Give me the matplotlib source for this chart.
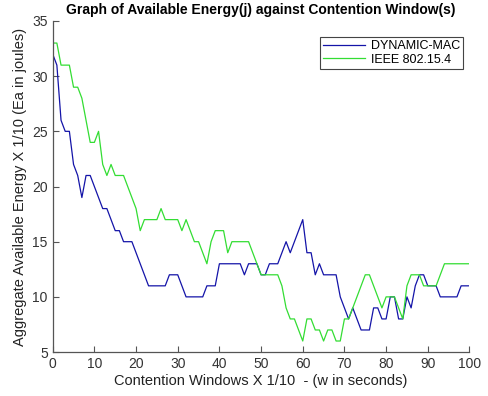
import matplotlib
matplotlib.use("Agg")
import matplotlib.pyplot as plt
import numpy as np

plt.rcParams['font.family'] = ['Liberation Sans', 'DejaVu Sans']

x = list(range(0, 101))
dynamic_mac = [32, 31, 26, 25, 25, 22, 21, 19, 21, 21,
               20, 19, 18, 18, 17, 16, 16, 15, 15, 15,
               14, 13, 12, 11, 11, 11, 11, 11, 12, 12,
               12, 11, 10, 10, 10, 10, 10, 11, 11, 11,
               13, 13, 13, 13, 13, 13, 12, 13, 13, 13,
               12, 12, 13, 13, 13, 14, 15, 14, 15, 16,
               17, 14, 14, 12, 13, 12, 12, 12, 12, 10,
               9, 8, 9, 8, 7, 7, 7, 9, 9, 8,
               8, 10, 10, 8, 8, 10, 9, 11, 12, 12,
               11, 11, 11, 10, 10, 10, 10, 10, 11, 11,
               11]
ieee_802154 = [33, 33, 31, 31, 31, 29, 29, 28, 26, 24,
               24, 25, 22, 21, 22, 21, 21, 21, 20, 19,
               18, 16, 17, 17, 17, 17, 18, 17, 17, 17,
               17, 16, 17, 16, 15, 15, 14, 13, 15, 16,
               16, 16, 14, 15, 15, 15, 15, 15, 14, 13,
               12, 12, 12, 12, 12, 11, 9, 8, 8, 7,
               6, 8, 8, 7, 7, 6, 7, 7, 6, 6,
               8, 8, 9, 10, 11, 12, 12, 11, 10, 9,
               10, 10, 10, 9, 8, 11, 12, 12, 12, 11,
               11, 11, 11, 12, 13, 13, 13, 13, 13, 13,
               13]
series_labels = ['DYNAMIC-MAC', 'IEEE 802.15.4']
x_ticks = [0, 10, 20, 30, 40, 50, 60, 70, 80, 90, 100]
y_ticks = [5, 10, 15, 20, 25, 30, 35]

fig = plt.figure(figsize=(4.88, 3.96), dpi=100)
ax = fig.add_axes([0.108, 0.111, 0.854, 0.836])

ax.plot(x, dynamic_mac, color='#1414a8', lw=0.9, label=series_labels[0])
ax.plot(x, ieee_802154, color='#33dd33', lw=0.9, label=series_labels[1])

ax.set_xlim(0, 100)
ax.set_ylim(5, 35)
ax.set_xticks(x_ticks)
ax.set_yticks(y_ticks)

for s in ['top', 'right']:
    ax.spines[s].set_visible(False)
for s in ['left', 'bottom']:
    ax.spines[s].set_color('#555555')
    ax.spines[s].set_linewidth(0.9)
ax.tick_params(direction='in', length=4, width=0.8, colors='#555555',
               labelcolor='#333333', labelsize=10)

ax.set_title('Graph of Available Energy(j) against Contention Window(s)',
             fontsize=10, fontweight='bold', pad=5)
ax.set_xlabel('Contention Windows X 1/10  - (w in seconds)', fontsize=10.5,
              color='#222222', labelpad=2)
ax.set_ylabel('Aggregate Available Energy X 1/10 (Ea in joules)', fontsize=10.5,
              color='#222222', labelpad=4)

leg = ax.legend(loc='upper right', bbox_to_anchor=(1.0, 0.97), fontsize=9,
                fancybox=False, framealpha=1, edgecolor='#444444',
                handlelength=3.3, borderpad=0.25, labelspacing=0.1,
                handletextpad=0.5)
leg.get_frame().set_linewidth(0.8)

fig.savefig('out.png', dpi=100)
